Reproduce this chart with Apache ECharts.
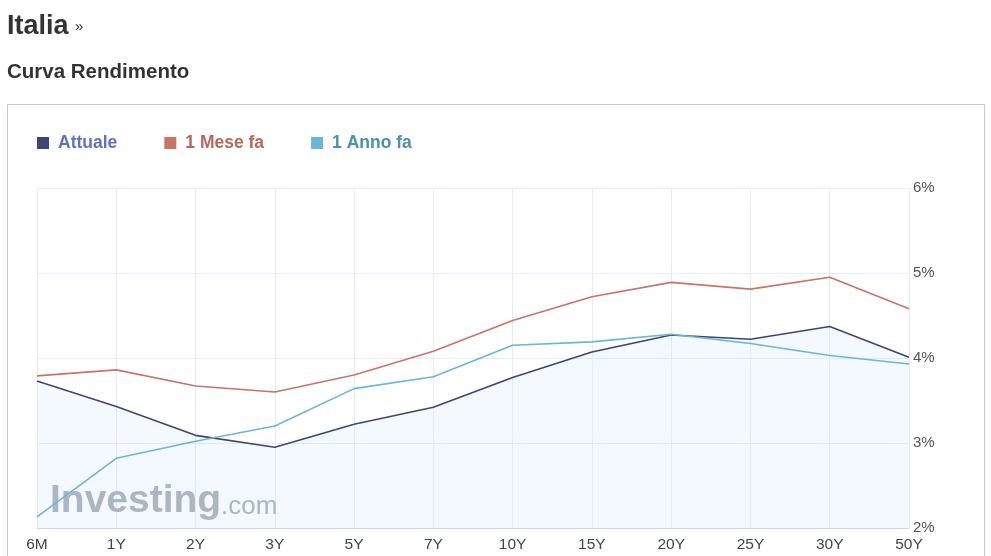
<!DOCTYPE html>
<html>
<head>
<meta charset="utf-8">
<script src="https://cdn.jsdelivr.net/npm/echarts@6/dist/echarts.min.js"></script>
<style>
html,body{margin:0;padding:0;background:#fff;}
#c{width:991px;height:556px;}
</style>
</head>
<body>
<div id="c"></div>
<script>
var categories = ['6M','1Y','2Y','3Y','5Y','7Y','10Y','15Y','20Y','25Y','30Y','50Y'];
var attuale   = [3.73, 3.43, 3.09, 2.95, 3.22, 3.42, 3.77, 4.07, 4.27, 4.22, 4.37, 4.01];
var meseFa    = [3.79, 3.86, 3.67, 3.60, 3.80, 4.08, 4.44, 4.72, 4.89, 4.81, 4.95, 4.58];
var annoFa    = [2.13, 2.82, 3.02, 3.20, 3.64, 3.78, 4.15, 4.19, 4.28, 4.17, 4.03, 3.93];
var seriesNames = ['Attuale', '1 Mese fa', '1 Anno fa'];
var yTicks = [2, 3, 4, 5, 6];

var FONT = '"Liberation Sans", Arial, sans-serif';
var chart = echarts.init(document.getElementById('c'), null, {renderer:'canvas'});
var option = {
  animation: false,
  backgroundColor: '#fff',
  textStyle: {fontFamily: FONT},
  title: [
    {text: 'Italia', left: 7, top: 13, padding: 0, textStyle: {fontFamily: FONT, fontSize: 27, fontWeight: 'bold', color: '#333'}},
    {text: '»', left: 75, top: 19, padding: 0, textStyle: {fontFamily: FONT, fontSize: 15, fontWeight: 'normal', color: '#333'}},
    {text: 'Curva Rendimento', left: 7, top: 62, padding: 0, textStyle: {fontFamily: FONT, fontSize: 20.5, fontWeight: 'bold', color: '#333'}}
  ],
  graphic: [
    {type: 'rect', z: 0, shape: {x: 7.5, y: 104.5, width: 977, height: 470}, style: {fill: 'none', stroke: '#c8c8c8', lineWidth: 1}},
    {type: 'text', z: 1, left: 50, top: 482, style: {text: 'Investing', fill: '#a2a7ad', font: 'bold 39px ' + FONT}},
    {type: 'text', z: 1, left: 221, top: 494, style: {text: '.com', fill: '#a2a7ad', font: '26px ' + FONT}}
  ],
  legend: {
    left: 32, top: 129,
    icon: 'rect', itemWidth: 12, itemHeight: 12, itemGap: 47,
    data: [
      {name: seriesNames[0], textStyle: {color: '#6172c2'}},
      {name: seriesNames[1], textStyle: {color: '#b8675b'}},
      {name: seriesNames[2], textStyle: {color: '#4e90aa'}}
    ],
    textStyle: {fontFamily: FONT, fontSize: 17.5, fontWeight: 'bold', padding: [0, 0, 0, 4]}
  },
  grid: {left: 37, right: 82, top: 188, bottom: 28, containLabel: false},
  xAxis: {
    type: 'category', data: categories, boundaryGap: false,
    axisLine: {lineStyle: {color: '#c9d5e8'}},
    axisTick: {show: false},
    axisLabel: {color: '#444', fontSize: 15.5, margin: 9, fontFamily: FONT},
    splitLine: {show: true, lineStyle: {color: '#e5ecf7'}}
  },
  yAxis: {
    type: 'value', position: 'right', min: yTicks[0], max: yTicks[yTicks.length-1], interval: 1,
    axisLine: {show: false}, axisTick: {show: false},
    axisLabel: {color: '#555', fontSize: 15, margin: 4, fontFamily: FONT, formatter: '{value}%', padding: [3, 0, 0, 0]},
    splitLine: {show: true, lineStyle: {color: '#e5ecf7'}}
  },
  series: [
    {name: seriesNames[0], type: 'line', data: attuale, symbol: 'none', z: 4,
     lineStyle: {color: '#3c4677', width: 1.6}, itemStyle: {color: '#3c4677'},
     areaStyle: {color: 'rgba(204,230,252,0.35)'}},
    {name: seriesNames[1], type: 'line', data: meseFa, symbol: 'none', z: 3,
     lineStyle: {color: '#c87468', width: 1.6}, itemStyle: {color: '#c87468'}},
    {name: seriesNames[2], type: 'line', data: annoFa, symbol: 'none', z: 5,
     lineStyle: {color: '#6bb5d8', width: 1.6}, itemStyle: {color: '#6bb5d8'}}
  ]
};
chart.setOption(option);
</script>
</body>
</html>
